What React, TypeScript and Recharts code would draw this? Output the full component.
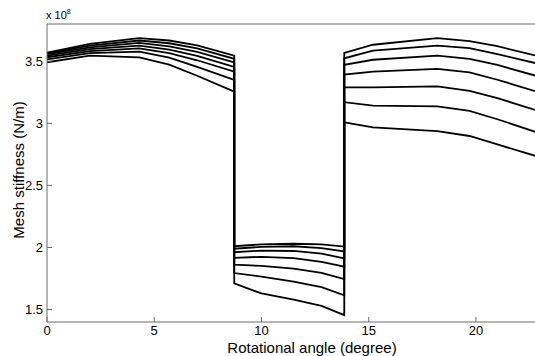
import { LineChart, Line, XAxis, YAxis } from 'recharts';

// rotational angle (degree): three meshing regions, the jumps repeat the x value
const angles = [0, 2, 4.3, 5.7, 7, 8.73, 8.73, 10, 11.5, 12.8, 13.86, 13.86, 15.2, 18.2, 19.7, 21, 22.8];

// mesh stiffness, in units of 1e8 N/m
const curve1 = [3.57, 3.64, 3.686, 3.667, 3.628, 3.545, 2.01, 2.025, 2.03, 2.025, 2.007, 3.567, 3.633, 3.686, 3.662, 3.621, 3.545];
const curve2 = [3.565, 3.625, 3.667, 3.645, 3.603, 3.52, 1.99, 2.005, 2.01, 1.995, 1.968, 3.524, 3.586, 3.626, 3.605, 3.557, 3.484];
const curve3 = [3.558, 3.612, 3.648, 3.62, 3.575, 3.49, 1.962, 1.975, 1.972, 1.95, 1.913, 3.471, 3.512, 3.545, 3.519, 3.47, 3.383];
const curve4 = [3.546, 3.597, 3.626, 3.594, 3.543, 3.455, 1.917, 1.925, 1.915, 1.885, 1.845, 3.393, 3.416, 3.438, 3.411, 3.351, 3.257];
const curve5 = [3.532, 3.582, 3.603, 3.566, 3.508, 3.416, 1.861, 1.852, 1.83, 1.795, 1.745, 3.29, 3.29, 3.298, 3.262, 3.203, 3.106];
const curve6 = [3.515, 3.565, 3.578, 3.53, 3.455, 3.35, 1.794, 1.765, 1.725, 1.68, 1.615, 3.17, 3.143, 3.136, 3.1, 3.033, 2.93];
const curve7 = [3.492, 3.545, 3.532, 3.472, 3.383, 3.255, 1.711, 1.63, 1.58, 1.53, 1.455, 3.008, 2.968, 2.938, 2.898, 2.83, 2.736];

const xTicks = [0, 5, 10, 15, 20];
const yTicks = [1.5, 2, 2.5, 3, 3.5];

const curves = [curve1, curve2, curve3, curve4, curve5, curve6, curve7];
const series = curves.map((vals) => vals.map((y, i) => ({ x: angles[i], y })));

const FONT = '"Liberation Sans", Arial, sans-serif';
const FRAME = '#6b6b6b';

export default function App() {
  return (
    <div
      style={{
        position: 'absolute',
        left: 0,
        top: 0,
        width: 535,
        height: 356,
        overflow: 'hidden',
        background: '#fff',
        fontFamily: FONT
      }}
    >
      <LineChart width={537} height={356} margin={{ top: 0, right: 0, bottom: 0, left: 0 }}>
        <XAxis
          xAxisId="bottom"
          type="number"
          dataKey="x"
          domain={[0, 22.8]}
          ticks={xTicks}
          height={34}
          tickSize={-5}
          tickMargin={9}
          axisLine={{ stroke: FRAME }}
          tickLine={{ stroke: FRAME }}
          tick={{ fill: '#000', fontSize: 13, fontFamily: FONT }}
          allowDataOverflow
        />
        <XAxis
          xAxisId="top"
          orientation="top"
          type="number"
          dataKey="x"
          domain={[0, 22.8]}
          ticks={xTicks}
          height={24}
          tickSize={-5}
          axisLine={{ stroke: FRAME }}
          tickLine={{ stroke: FRAME }}
          tick={false}
          allowDataOverflow
        />
        <YAxis
          yAxisId="left"
          type="number"
          domain={[1.4, 3.8]}
          ticks={yTicks}
          width={47}
          tickSize={-5}
          tickMargin={9}
          axisLine={{ stroke: FRAME }}
          tickLine={{ stroke: FRAME }}
          tick={{ fill: '#000', fontSize: 13, fontFamily: FONT }}
          allowDataOverflow
        />
        <YAxis
          yAxisId="right"
          orientation="right"
          type="number"
          domain={[1.4, 3.8]}
          ticks={yTicks}
          width={1}
          tickSize={-5}
          axisLine={{ stroke: FRAME }}
          tickLine={{ stroke: FRAME }}
          tick={false}
          allowDataOverflow
        />
        {series.map((data, i) => (
          <Line
            key={i}
            data={data}
            xAxisId="bottom"
            yAxisId="left"
            dataKey="y"
            type="linear"
            stroke="#000"
            strokeWidth={1.8}
            dot={false}
            isAnimationActive={false}
          />
        ))}
      </LineChart>
      <div style={{ position: 'absolute', left: 46, top: 8, fontSize: 11, color: '#000' }}>
        x 10<sup style={{ fontSize: 7 }}>8</sup>
      </div>
      <div
        style={{
          position: 'absolute',
          left: 18,
          top: 170,
          transform: 'translate(-50%, -50%) rotate(-90deg)',
          whiteSpace: 'nowrap',
          fontSize: 15,
          color: '#000'
        }}
      >
        Mesh stiffness (N/m)
      </div>
      <div
        style={{
          position: 'absolute',
          left: 312,
          top: 347,
          transform: 'translate(-50%, -50%)',
          whiteSpace: 'nowrap',
          fontSize: 15,
          color: '#000'
        }}
      >
        Rotational angle (degree)
      </div>
    </div>
  );
}
